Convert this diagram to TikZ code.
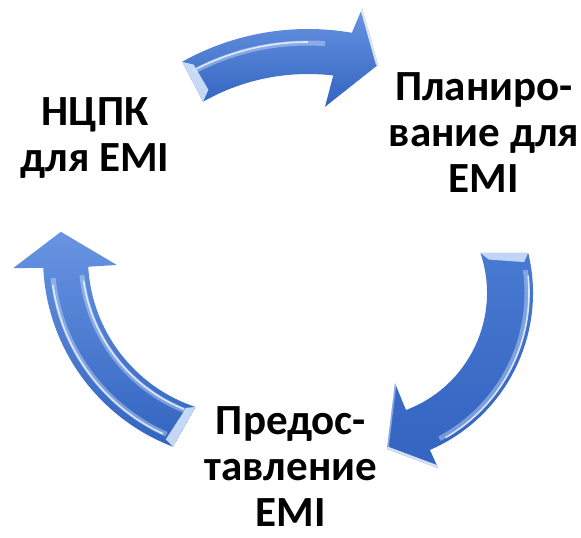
\documentclass[tikz,border=0pt]{standalone}
\usepackage{fontspec}
\setmainfont{Carlito}
\definecolor{alight}{RGB}{104,148,226}
\definecolor{amid}{RGB}{72,122,210}
\definecolor{adark}{RGB}{50,100,192}
\definecolor{ahl}{RGB}{222,236,255}
\begin{document}
\begin{tikzpicture}[x=1pt,y=1pt,
  lbl/.style={font=\fontsize{43}{46}\selectfont\bfseries, align=center, anchor=north, inner sep=0pt},
  glow/.style={ahl, opacity=0.4, line width=5pt},
  shine/.style={white, opacity=0.75, line width=1.6pt}]
\useasboundingbox (0,0) rectangle (581,-538);

% ---------- top arrow ----------
\begin{scope}[shift={(308,-287)}]
\def\toparr{(119.2:258pt) arc[start angle=119.2,end angle=80.2,radius=258pt] -- (79:284pt) -- (72.5:233pt) -- (84.6:181pt) -- (83.2:213pt) arc[start angle=83.2,end angle=119.5,radius=213pt] -- cycle}
\shade[top color=alight, bottom color=adark] \toparr;
\begin{scope}
\clip \toparr;
\draw[glow] (118:244pt) arc[start angle=118,end angle=86,radius=244pt];
\draw[shine] (117:245pt) arc[start angle=117,end angle=90,radius=245pt];
\fill[ahl, opacity=0.85] (119.2:258pt) -- (119.5:213pt) -- (116.8:221pt) -- (117.2:250pt) -- cycle;
\draw[white, opacity=0.8, line width=4pt] (79:284pt) -- (72.5:233pt);
\end{scope}
\end{scope}

% ---------- right arrow ----------
\begin{scope}[shift={(362,-293)}]
\def\rightarr{(13.6:171pt) arc[start angle=13.6,end angle=-66.6,radius=171pt] -- (-66.5:191pt) -- (-80.9:158pt) -- (-69.9:96pt) -- (-69.4:125pt) arc[start angle=-69.4,end angle=18.7,radius=125pt] -- cycle}
\shade[top color=amid, bottom color=adark] \rightarr;
\begin{scope}
\clip \rightarr;
\fill[ahl, opacity=0.8] (18.7:125pt) -- (13.6:171pt) -- (10.8:165pt) -- (14.8:131pt) -- cycle;
\draw[glow] (8:165pt) arc[start angle=8,end angle=-62,radius=165pt];
\draw[shine] (6:167pt) arc[start angle=6,end angle=-60,radius=167pt];
\draw[white, opacity=0.8, line width=5pt] (-80.9:158pt) -- (-66.5:191pt);
\draw[ahl, opacity=0.5, line width=3pt] (-80.9:158pt) -- (-69.9:96pt);
\end{scope}
\end{scope}

% ---------- left arrow ----------
\begin{scope}[shift={(245,-258)}]
\def\leftarr{(-110.9:202pt) arc[start angle=-110.9,end angle=-177.2,radius=202pt] -- (-177.5:232pt) -- (-188.1:186pt) -- (-176.9:128.5pt) -- (-176.8:157pt) arc[start angle=-176.8,end angle=-108.4,radius=157pt] -- cycle}
\shade[top color=alight, bottom color=adark] \leftarr;
\begin{scope}
\clip \leftarr;
\draw[glow] (-114:193pt) arc[start angle=-114,end angle=-174,radius=193pt];
\draw[shine] (-115:194pt) arc[start angle=-115,end angle=-172,radius=194pt];
\draw[glow] (-111:164pt) arc[start angle=-111,end angle=-174,radius=164pt];
\draw[shine] (-112:163pt) arc[start angle=-112,end angle=-172,radius=163pt];
\fill[ahl, opacity=0.85] (-110.9:202pt) -- (-108.4:157pt) -- (-111.4:161pt) -- (-113.6:198pt) -- cycle;
\end{scope}
\end{scope}

% ---------- labels ----------
\node[lbl] (ncpk) at (95,-97) {НЦПК\\для EMI};
\node[lbl] (plan) at (484,-72) {Планиро-\\вание для\\EMI};
\node[lbl] (prov) at (291,-406) {Предос-\\тавление\\EMI};
\end{tikzpicture}
\end{document}
